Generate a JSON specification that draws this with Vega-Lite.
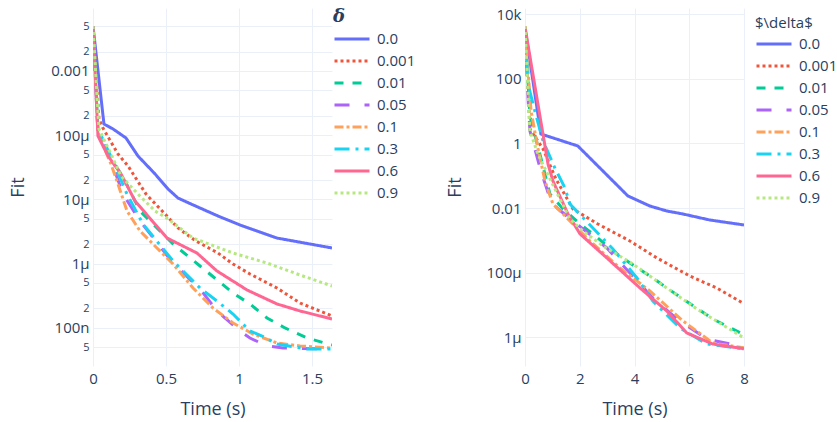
{
  "$schema": "https://vega.github.io/schema/vega-lite/v6.json",
  "background": "white",
  "padding": {"left": 9, "top": 7, "right": 0, "bottom": 0},
  "spacing": 30,
  "config": {
    "font": "Open Sans",
    "view": {"stroke": null},
    "axis": {
      "domain": false, "ticks": false, "grid": true,
      "gridColor": "#EBF0F8", "gridWidth": 1,
      "labelColor": "#2a3f5f", "titleColor": "#2a3f5f",
      "labelFont": "Open Sans", "titleFont": "Open Sans",
      "labelFontSize": 15, "titleFontSize": 18, "titleFontWeight": "normal"
    }
  },
  "datasets": {
    "left": [
      {"d": "0.0", "t": 0, "f": 5.0e-3}, {"d": "0.0", "t": 0.075, "f": 1.49e-4}, {"d": "0.0", "t": 0.137, "f": 1.25e-4}, {"d": "0.0", "t": 0.226, "f": 9.04e-5}, {"d": "0.0", "t": 0.308, "f": 4.74e-5}, {"d": "0.0", "t": 0.425, "f": 2.49e-5}, {"d": "0.0", "t": 0.514, "f": 1.45e-5}, {"d": "0.0", "t": 0.582, "f": 1.05e-5}, {"d": "0.0", "t": 0.671, "f": 8.48e-6}, {"d": "0.0", "t": 0.856, "f": 5.51e-6}, {"d": "0.0", "t": 1.007, "f": 3.99e-6}, {"d": "0.0", "t": 1.26, "f": 2.5e-6}, {"d": "0.0", "t": 1.637, "f": 1.75e-6},
      {"d": "0.001", "t": 0, "f": 5.0e-3}, {"d": "0.001", "t": 0.041, "f": 1.79e-4}, {"d": "0.001", "t": 0.068, "f": 1.29e-4}, {"d": "0.001", "t": 0.171, "f": 5.09e-5}, {"d": "0.001", "t": 0.24, "f": 3.31e-5}, {"d": "0.001", "t": 0.363, "f": 1.21e-5}, {"d": "0.001", "t": 0.493, "f": 5.93e-6}, {"d": "0.001", "t": 0.582, "f": 3.59e-6}, {"d": "0.001", "t": 0.705, "f": 2.25e-6}, {"d": "0.001", "t": 0.856, "f": 1.46e-6}, {"d": "0.001", "t": 0.959, "f": 9.86e-7}, {"d": "0.001", "t": 1.075, "f": 6.89e-7}, {"d": "0.001", "t": 1.26, "f": 4.17e-7}, {"d": "0.001", "t": 1.418, "f": 2.43e-7}, {"d": "0.001", "t": 1.637, "f": 1.53e-7},
      {"d": "0.01", "t": 0, "f": 5.0e-3}, {"d": "0.01", "t": 0.034, "f": 1.05e-4}, {"d": "0.01", "t": 0.116, "f": 4.74e-5}, {"d": "0.01", "t": 0.219, "f": 1.94e-5}, {"d": "0.01", "t": 0.322, "f": 6.59e-6}, {"d": "0.01", "t": 0.438, "f": 3.59e-6}, {"d": "0.01", "t": 0.548, "f": 2.02e-6}, {"d": "0.01", "t": 0.733, "f": 9.18e-7}, {"d": "0.01", "t": 0.959, "f": 3.48e-7}, {"d": "0.01", "t": 1.075, "f": 2.35e-7}, {"d": "0.01", "t": 1.192, "f": 1.42e-7}, {"d": "0.01", "t": 1.315, "f": 9.93e-8}, {"d": "0.01", "t": 1.466, "f": 6.93e-8}, {"d": "0.01", "t": 1.637, "f": 5.39e-8},
      {"d": "0.05", "t": 0, "f": 5.0e-3}, {"d": "0.05", "t": 0.034, "f": 1.16e-4}, {"d": "0.05", "t": 0.13, "f": 3.69e-5}, {"d": "0.05", "t": 0.205, "f": 1.21e-5}, {"d": "0.05", "t": 0.322, "f": 4.61e-6}, {"d": "0.05", "t": 0.548, "f": 1.02e-6}, {"d": "0.05", "t": 0.733, "f": 4.02e-7}, {"d": "0.05", "t": 0.849, "f": 1.83e-7}, {"d": "0.05", "t": 1.007, "f": 8.91e-8}, {"d": "0.05", "t": 1.075, "f": 6.93e-8}, {"d": "0.05", "t": 1.192, "f": 5.21e-8}, {"d": "0.05", "t": 1.301, "f": 4.84e-8}, {"d": "0.05", "t": 1.637, "f": 4.67e-8},
      {"d": "0.1", "t": 0, "f": 5.0e-3}, {"d": "0.1", "t": 0.034, "f": 1.08e-4}, {"d": "0.1", "t": 0.123, "f": 3.56e-5}, {"d": "0.1", "t": 0.164, "f": 1.94e-5}, {"d": "0.1", "t": 0.233, "f": 6.59e-6}, {"d": "0.1", "t": 0.322, "f": 3.22e-6}, {"d": "0.1", "t": 0.438, "f": 1.75e-6}, {"d": "0.1", "t": 0.548, "f": 9.86e-7}, {"d": "0.1", "t": 0.685, "f": 4.17e-7}, {"d": "0.1", "t": 0.822, "f": 2.03e-7}, {"d": "0.1", "t": 0.959, "f": 1.19e-7}, {"d": "0.1", "t": 1.096, "f": 8.0e-8}, {"d": "0.1", "t": 1.26, "f": 5.79e-8}, {"d": "0.1", "t": 1.418, "f": 5.21e-8}, {"d": "0.1", "t": 1.637, "f": 4.84e-8},
      {"d": "0.3", "t": 0, "f": 5.0e-3}, {"d": "0.3", "t": 0.034, "f": 1.25e-4}, {"d": "0.3", "t": 0.13, "f": 4.26e-5}, {"d": "0.3", "t": 0.233, "f": 1.21e-5}, {"d": "0.3", "t": 0.342, "f": 4.14e-6}, {"d": "0.3", "t": 0.548, "f": 1.1e-6}, {"d": "0.3", "t": 0.733, "f": 4.17e-7}, {"d": "0.3", "t": 0.849, "f": 2.61e-7}, {"d": "0.3", "t": 0.959, "f": 1.64e-7}, {"d": "0.3", "t": 1.075, "f": 8.91e-8}, {"d": "0.3", "t": 1.158, "f": 7.45e-8}, {"d": "0.3", "t": 1.26, "f": 5.6e-8}, {"d": "0.3", "t": 1.466, "f": 4.67e-8}, {"d": "0.3", "t": 1.637, "f": 4.67e-8},
      {"d": "0.6", "t": 0, "f": 5.0e-3}, {"d": "0.6", "t": 0.034, "f": 9.73e-5}, {"d": "0.6", "t": 0.103, "f": 4.74e-5}, {"d": "0.6", "t": 0.192, "f": 2.49e-5}, {"d": "0.6", "t": 0.288, "f": 9.44e-6}, {"d": "0.6", "t": 0.507, "f": 2.5e-6}, {"d": "0.6", "t": 0.712, "f": 1.46e-6}, {"d": "0.6", "t": 0.849, "f": 7.67e-7}, {"d": "0.6", "t": 1.055, "f": 3.88e-7}, {"d": "0.6", "t": 1.26, "f": 2.35e-7}, {"d": "0.6", "t": 1.418, "f": 1.83e-7}, {"d": "0.6", "t": 1.637, "f": 1.37e-7},
      {"d": "0.9", "t": 0, "f": 5.0e-3}, {"d": "0.9", "t": 0.041, "f": 1.25e-4}, {"d": "0.9", "t": 0.123, "f": 5.09e-5}, {"d": "0.9", "t": 0.192, "f": 2.31e-5}, {"d": "0.9", "t": 0.308, "f": 1.21e-5}, {"d": "0.9", "t": 0.425, "f": 6.59e-6}, {"d": "0.9", "t": 0.514, "f": 4.95e-6}, {"d": "0.9", "t": 0.685, "f": 2.5e-6}, {"d": "0.9", "t": 0.959, "f": 1.46e-6}, {"d": "0.9", "t": 1.192, "f": 1.02e-6}, {"d": "0.9", "t": 1.418, "f": 6.64e-7}, {"d": "0.9", "t": 1.637, "f": 4.48e-7}
    ],
    "right": [
      {"d": "0.0", "t": 0, "f": 3770}, {"d": "0.0", "t": 0.58, "f": 1.97}, {"d": "0.0", "t": 1.93, "f": 0.837}, {"d": "0.0", "t": 3.76, "f": 0.0237}, {"d": "0.0", "t": 4.56, "f": 0.0116}, {"d": "0.0", "t": 5.18, "f": 8.13e-3}, {"d": "0.0", "t": 5.77, "f": 6.56e-3}, {"d": "0.0", "t": 6.75, "f": 4.28e-3}, {"d": "0.0", "t": 8, "f": 3.0e-3},
      {"d": "0.001", "t": 0, "f": 4350}, {"d": "0.001", "t": 0.18, "f": 2.81}, {"d": "0.001", "t": 0.66, "f": 0.676}, {"d": "0.001", "t": 1.13, "f": 0.0796}, {"d": "0.001", "t": 1.75, "f": 9.38e-3}, {"d": "0.001", "t": 2.66, "f": 3.22e-3}, {"d": "0.001", "t": 3.83, "f": 9.59e-4}, {"d": "0.001", "t": 4.82, "f": 2.85e-4}, {"d": "0.001", "t": 6.02, "f": 7.91e-5}, {"d": "0.001", "t": 7.0, "f": 3.36e-5}, {"d": "0.001", "t": 8, "f": 1.1e-5},
      {"d": "0.01", "t": 0, "f": 3770}, {"d": "0.01", "t": 0.18, "f": 7.1}, {"d": "0.01", "t": 0.58, "f": 0.356}, {"d": "0.01", "t": 0.91, "f": 0.0274}, {"d": "0.01", "t": 1.39, "f": 9.38e-3}, {"d": "0.01", "t": 2.01, "f": 3.22e-3}, {"d": "0.01", "t": 2.66, "f": 1.19e-3}, {"d": "0.01", "t": 3.21, "f": 4.7e-4}, {"d": "0.01", "t": 3.83, "f": 2.0e-4}, {"d": "0.01", "t": 4.45, "f": 9.12e-5}, {"d": "0.01", "t": 5.77, "f": 1.53e-5}, {"d": "0.01", "t": 6.86, "f": 3.69e-6}, {"d": "0.01", "t": 8, "f": 1.2e-6},
      {"d": "0.05", "t": 0, "f": 3040}, {"d": "0.05", "t": 0.11, "f": 25.6}, {"d": "0.05", "t": 0.18, "f": 2.44}, {"d": "0.05", "t": 0.58, "f": 0.141}, {"d": "0.05", "t": 0.91, "f": 0.0206}, {"d": "0.05", "t": 1.17, "f": 0.0101}, {"d": "0.05", "t": 1.75, "f": 3.99e-3}, {"d": "0.05", "t": 2.99, "f": 5.82e-4}, {"d": "0.05", "t": 4.67, "f": 1.65e-5}, {"d": "0.05", "t": 5.55, "f": 3.69e-6}, {"d": "0.05", "t": 6.64, "f": 8.85e-7}, {"d": "0.05", "t": 8, "f": 5.0e-7},
      {"d": "0.1", "t": 0, "f": 3510}, {"d": "0.1", "t": 0.22, "f": 10.1}, {"d": "0.1", "t": 0.47, "f": 0.726}, {"d": "0.1", "t": 0.73, "f": 0.069}, {"d": "0.1", "t": 1.02, "f": 0.0134}, {"d": "0.1", "t": 1.39, "f": 6.56e-3}, {"d": "0.1", "t": 1.75, "f": 3.22e-3}, {"d": "0.1", "t": 2.37, "f": 9.59e-4}, {"d": "0.1", "t": 3.47, "f": 1.4e-4}, {"d": "0.1", "t": 4.56, "f": 2.72e-5}, {"d": "0.1", "t": 5.77, "f": 3.2e-6}, {"d": "0.1", "t": 6.86, "f": 6.67e-7}, {"d": "0.1", "t": 8, "f": 4.7e-7},
      {"d": "0.3", "t": 0, "f": 3510}, {"d": "0.3", "t": 0.11, "f": 69.5}, {"d": "0.3", "t": 0.36, "f": 10.1}, {"d": "0.3", "t": 0.66, "f": 1.19}, {"d": "0.3", "t": 1.09, "f": 0.174}, {"d": "0.3", "t": 1.46, "f": 0.0419}, {"d": "0.3", "t": 1.64, "f": 0.0134}, {"d": "0.3", "t": 2.48, "f": 2.42e-3}, {"d": "0.3", "t": 3.21, "f": 5.42e-4}, {"d": "0.3", "t": 4.09, "f": 6.86e-5}, {"d": "0.3", "t": 4.67, "f": 1.33e-5}, {"d": "0.3", "t": 5.66, "f": 1.94e-6}, {"d": "0.3", "t": 6.64, "f": 6.19e-7}, {"d": "0.3", "t": 8, "f": 4.4e-7},
      {"d": "0.6", "t": 0, "f": 4050}, {"d": "0.6", "t": 0.84, "f": 0.232}, {"d": "0.6", "t": 1.02, "f": 0.069}, {"d": "0.6", "t": 1.57, "f": 6.56e-3}, {"d": "0.6", "t": 2.01, "f": 1.58e-3}, {"d": "0.6", "t": 2.99, "f": 2.85e-4}, {"d": "0.6", "t": 4.2, "f": 3.36e-5}, {"d": "0.6", "t": 5.18, "f": 6.52e-6}, {"d": "0.6", "t": 5.91, "f": 1.36e-6}, {"d": "0.6", "t": 6.86, "f": 6.19e-7}, {"d": "0.6", "t": 8, "f": 4.4e-7},
      {"d": "0.9", "t": 0, "f": 4350}, {"d": "0.9", "t": 0.18, "f": 2.44}, {"d": "0.9", "t": 0.47, "f": 0.473}, {"d": "0.9", "t": 0.95, "f": 0.069}, {"d": "0.9", "t": 1.31, "f": 0.0166}, {"d": "0.9", "t": 1.64, "f": 4.59e-3}, {"d": "0.9", "t": 2.12, "f": 1.95e-3}, {"d": "0.9", "t": 2.85, "f": 6.71e-4}, {"d": "0.9", "t": 3.94, "f": 1.86e-4}, {"d": "0.9", "t": 5.18, "f": 3.36e-5}, {"d": "0.9", "t": 6.28, "f": 7.52e-6}, {"d": "0.9", "t": 8, "f": 9.5e-7}
    ]
  },
  "hconcat": [
    {
      "width": 239, "height": 358,
      "data": {"name": "left"},
      "mark": {"type": "line", "strokeWidth": 3, "clip": true},
      "encoding": {
        "x": {"field": "t", "type": "quantitative",
          "scale": {"domain": [0, 1.637], "nice": false, "zero": false},
          "axis": {"values": [0, 0.5, 1, 1.5], "format": "~g", "title": "Time (s)", "labelPadding": 5, "titleBaseline": "middle", "titleY": 43, "labelFlush": false}},
        "y": {"field": "f", "type": "quantitative",
          "scale": {"type": "log", "domain": [2.54e-8, 9.57e-3], "nice": false},
          "axis": {"values": [5e-3, 2e-3, 1e-3, 5e-4, 2e-4, 1e-4, 5e-5, 2e-5, 1e-5, 5e-6, 2e-6, 1e-6, 5e-7, 2e-7, 1e-7, 5e-8],
            "labelExpr": "abs(log(datum.value)/LN10 - round(log(datum.value)/LN10)) < 0.01 ? (datum.value >= 0.001 ? format(datum.value, '~g') : format(datum.value, '~s')) : substring(format(datum.value, '~s'), 0, 1)",
            "labelFontSize": {"condition": {"test": "abs(log(datum.value)/LN10 - round(log(datum.value)/LN10)) < 0.01", "value": 15}, "value": 11},
            "labelPadding": 4, "title": "Fit", "titleX": -75, "titleBaseline": "middle"}},
        "color": {"field": "d", "type": "nominal",
          "scale": {"domain": ["0.0", "0.001", "0.01", "0.05", "0.1", "0.3", "0.6", "0.9"], "range": ["#636efa", "#EF553B", "#00cc96", "#ab63fa", "#FFA15A", "#19d3f3", "#FF6692", "#B6E880"]},
          "legend": {"title": "δ", "orient": "none", "legendX": 240, "legendY": 0, "titleFont": "DejaVu Serif", "titleFontStyle": "italic", "titleFontWeight": "bold", "titleFontSize": 18, "titleColor": "#2a3f5f", "titlePadding": 2, "labelFont": "Open Sans", "labelFontSize": 15, "labelColor": "#2a3f5f", "symbolType": "stroke", "symbolSize": 1225, "symbolStrokeWidth": 3, "labelOffset": 6, "clipHeight": 22, "rowPadding": 0, "padding": 0}},
        "strokeDash": {"field": "d", "type": "nominal",
          "scale": {"domain": ["0.0", "0.001", "0.01", "0.05", "0.1", "0.3", "0.6", "0.9"], "range": [[1, 0], [3, 3], [9, 9], [15, 15], [9, 3, 3, 3], [15, 6, 3, 6], [1, 0], [3, 3]]},
          "legend": {"title": "δ", "orient": "none", "legendX": 240, "legendY": 0, "titleFont": "DejaVu Serif", "titleFontStyle": "italic", "titleFontWeight": "bold", "titleFontSize": 18, "titleColor": "#2a3f5f", "titlePadding": 2, "labelFont": "Open Sans", "labelFontSize": 15, "labelColor": "#2a3f5f", "symbolType": "stroke", "symbolSize": 1225, "symbolStrokeWidth": 3, "labelOffset": 6, "clipHeight": 22, "rowPadding": 0, "padding": 0}}
      }
    },
    {
      "width": 219, "height": 358,
      "data": {"name": "right"},
      "mark": {"type": "line", "strokeWidth": 3, "clip": true},
      "encoding": {
        "x": {"field": "t", "type": "quantitative",
          "scale": {"domain": [0, 8], "nice": false, "zero": false},
          "axis": {"values": [0, 2, 4, 6, 8], "format": "~g", "title": "Time (s)", "labelPadding": 5, "titleBaseline": "middle", "titleY": 43, "labelFlush": false}},
        "y": {"field": "f", "type": "quantitative",
          "scale": {"type": "log", "domain": [1.29e-7, 1.566e4], "nice": false},
          "axis": {"values": [1e4, 100, 1, 0.01, 1e-4, 1e-6],
            "labelExpr": "datum.value >= 0.01 && datum.value < 1000 ? format(datum.value, '~g') : format(datum.value, '~s')",
            "labelPadding": 4, "title": "Fit", "titleX": -70, "titleBaseline": "middle"}},
        "color": {"field": "d", "type": "nominal",
          "scale": {"domain": ["0.0", "0.001", "0.01", "0.05", "0.1", "0.3", "0.6", "0.9"], "range": ["#636efa", "#EF553B", "#00cc96", "#ab63fa", "#FFA15A", "#19d3f3", "#FF6692", "#B6E880"]},
          "legend": {"title": "$\\delta$", "orient": "none", "legendX": 230, "legendY": 8, "titleFont": "Open Sans", "titleFontWeight": "normal", "titleFontSize": 15, "titleColor": "#2a3f5f", "titlePadding": 2, "labelFont": "Open Sans", "labelFontSize": 15, "labelColor": "#2a3f5f", "symbolType": "stroke", "symbolSize": 1225, "symbolStrokeWidth": 3, "labelOffset": 6, "clipHeight": 22, "rowPadding": 0, "padding": 0}},
        "strokeDash": {"field": "d", "type": "nominal",
          "scale": {"domain": ["0.0", "0.001", "0.01", "0.05", "0.1", "0.3", "0.6", "0.9"], "range": [[1, 0], [3, 3], [9, 9], [15, 15], [9, 3, 3, 3], [15, 6, 3, 6], [1, 0], [3, 3]]},
          "legend": {"title": "$\\delta$", "orient": "none", "legendX": 230, "legendY": 8, "titleFont": "Open Sans", "titleFontWeight": "normal", "titleFontSize": 15, "titleColor": "#2a3f5f", "titlePadding": 2, "labelFont": "Open Sans", "labelFontSize": 15, "labelColor": "#2a3f5f", "symbolType": "stroke", "symbolSize": 1225, "symbolStrokeWidth": 3, "labelOffset": 6, "clipHeight": 22, "rowPadding": 0, "padding": 0}}
      }
    }
  ],
  "resolve": {
    "scale": {"color": "independent", "strokeDash": "independent"},
    "legend": {"color": "independent", "strokeDash": "independent"}
  }
}
